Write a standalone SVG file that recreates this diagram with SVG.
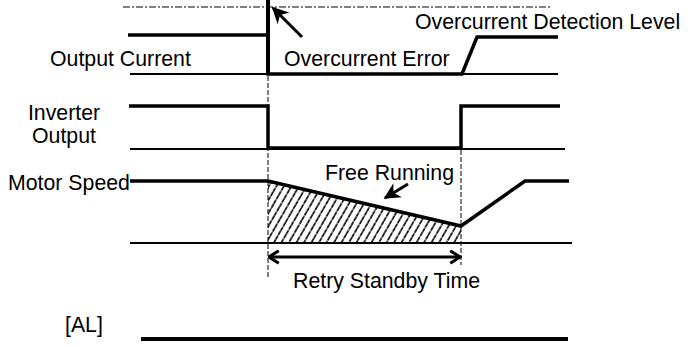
<svg xmlns="http://www.w3.org/2000/svg" width="699" height="347" viewBox="0 0 699 347">
<style>
text{font-family:"Liberation Sans",Arial,sans-serif;font-size:21.3px;fill:#000}
.sig{fill:none;stroke:#000;stroke-width:3.5;stroke-linejoin:miter}
.base{fill:none;stroke:#000;stroke-width:2}
.dd{fill:none;stroke:#000;stroke-width:1;stroke-dasharray:7,2,2,2}
.dash{fill:none;stroke:#000;stroke-width:1;stroke-dasharray:5,2}
.arr{fill:none;stroke:#000;stroke-width:3}
</style>
<defs>
<marker id="head" viewBox="0 0 10 10" refX="9" refY="5" markerWidth="5.5" markerHeight="5.5" orient="auto" markerUnits="strokeWidth">
<path d="M0,0 L10,5 L0,10 L3,5 Z" fill="#000"/>
</marker>
<marker id="chev" viewBox="0 0 10 10" refX="9" refY="5" markerWidth="5" markerHeight="5" orient="auto-start-reverse" markerUnits="strokeWidth">
<path d="M2.5,0.8 L9,5 L2.5,9.2" fill="none" stroke="#000" stroke-width="2"/>
</marker>
<pattern id="hatch" patternUnits="userSpaceOnUse" width="6.5" height="10" patternTransform="rotate(30)">
<line x1="1" y1="0" x2="1" y2="10" stroke="#000" stroke-width="1.6" stroke-dasharray="4.5,0.8"/>
</pattern>
</defs>

<g id="detection-level">
<line class="dd" x1="123" y1="7" x2="552" y2="7"/>
<text x="415" y="29">Overcurrent Detection Level</text>
</g>

<g id="output-current">
<text x="50" y="66">Output Current</text>
<path class="base" d="M130,74 H558"/>
<path class="sig" d="M128,35 H268 V74 H462 L477,37 H558"/>
<line x1="268" y1="0" x2="268" y2="74" stroke="#000" stroke-width="4"/>
<text x="284" y="66">Overcurrent Error</text>
</g>

<g id="inverter-output">
<text x="64" y="120" text-anchor="middle">Inverter</text>
<text x="64" y="143" text-anchor="middle">Output</text>
<path class="base" d="M130,149 H565"/>
<path class="sig" d="M129,106 H268 V148 H461 V106 H560"/>
</g>

<g id="motor-speed">
<text x="8" y="190">Motor Speed</text>
<polygon points="268,181 461,226 461,243 268,243" fill="url(#hatch)"/>
<path class="base" d="M130,243 H572"/>
<path class="sig" d="M130,181 H268 L461,226 L525,181 H569"/>
<text x="325" y="180">Free Running</text>
</g>

<g id="retry-time">
<line class="dash" x1="268" y1="76" x2="268" y2="278"/>
<line class="dash" x1="461" y1="150" x2="461" y2="265"/>
<text x="293" y="288">Retry Standby Time</text>
</g>

<g id="alarm">
<text x="65" y="332">[AL]</text>
<line x1="141" y1="339" x2="568" y2="339" stroke="#000" stroke-width="4"/>
</g>

<g id="connectors">
<line class="arr" x1="302" y1="37" x2="273" y2="8" marker-end="url(#head)"/>
<line class="arr" x1="408" y1="184" x2="385" y2="198" marker-end="url(#head)"/>
<line class="arr" x1="269" y1="257" x2="460" y2="257" marker-start="url(#chev)" marker-end="url(#chev)"/>
</g>
</svg>
